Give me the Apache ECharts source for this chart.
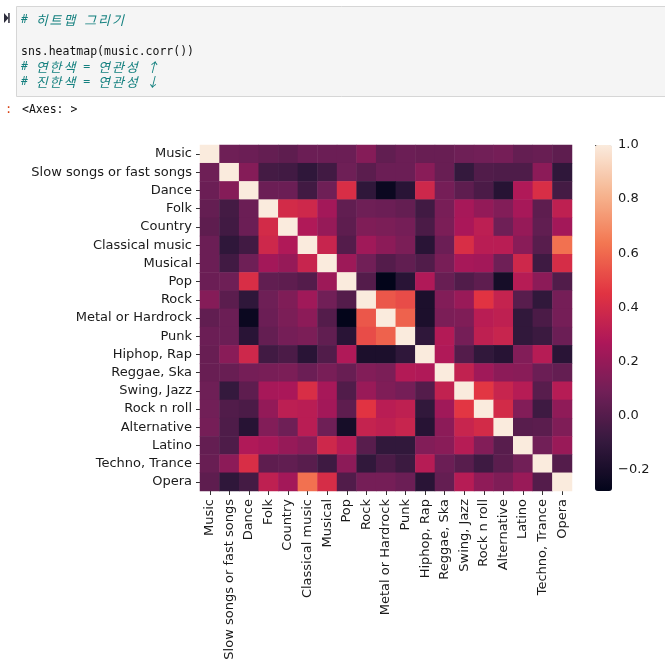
<!DOCTYPE html>
<html>
<head>
<meta charset="utf-8">
<script src="https://cdn.jsdelivr.net/npm/echarts@6/dist/echarts.min.js"></script>
<style>
  html, body { margin: 0; padding: 0; background: #ffffff; }
  #chart { width: 665px; height: 667px; }
</style>
</head>
<body>
<div id="chart"></div>
<script>
// ---- data ----
const categories = ['Music', 'Slow songs or fast songs', 'Dance', 'Folk', 'Country', 'Classical music', 'Musical', 'Pop', 'Rock', 'Metal or Hardrock', 'Punk', 'Hiphop, Rap', 'Reggae, Ska', 'Swing, Jazz', 'Rock n roll', 'Alternative', 'Latino', 'Techno, Trance', 'Opera'];

const rowMusic       = [1, 0.08, 0.07, 0.05, 0.03, 0.07, 0.07, 0.07, 0.15, 0.04, 0.07, 0.06, 0.06, 0.08, 0.09, 0.10, 0.05, 0.06, 0.03];
const rowSlowFast    = [0.08, 1, 0.15, -0.05, -0.06, -0.12, -0.06, 0.08, 0.02, 0.07, 0.07, 0.16, 0.06, -0.10, -0.01, -0.02, -0.02, 0.17, -0.12];
const rowDance       = [0.07, 0.15, 1, 0.07, 0.07, -0.06, 0.08, 0.42, -0.12, -0.25, -0.14, 0.38, 0.10, 0.03, -0.03, -0.15, 0.28, 0.42, -0.05];
const rowFolk        = [0.05, -0.05, 0.07, 1, 0.40, 0.38, 0.24, 0.04, 0.08, 0.07, 0.05, -0.06, 0.11, 0.25, 0.19, 0.14, 0.25, 0.03, 0.33];
const rowCountry     = [0.03, -0.06, 0.07, 0.40, 1, 0.28, 0.20, 0.03, 0.13, 0.12, 0.10, -0.03, 0.12, 0.26, 0.32, 0.08, 0.20, 0.04, 0.24];
const rowClassical   = [0.07, -0.12, -0.06, 0.38, 0.28, 1, 0.36, 0.00, 0.23, 0.17, 0.12, -0.14, 0.07, 0.42, 0.31, 0.31, 0.16, 0.01, 0.62];
const rowMusical     = [0.07, -0.06, 0.08, 0.24, 0.20, 0.36, 1, 0.22, 0.09, 0.00, 0.04, -0.01, 0.11, 0.25, 0.24, 0.08, 0.38, -0.07, 0.41];
const rowPop         = [0.07, 0.08, 0.42, 0.04, 0.03, 0.00, 0.22, 1, 0.00, -0.28, -0.14, 0.28, 0.06, -0.01, 0.03, -0.21, 0.30, 0.17, -0.01];
const rowRock        = [0.15, 0.02, -0.12, 0.08, 0.13, 0.23, 0.09, 0.00, 1, 0.55, 0.52, -0.19, 0.14, 0.21, 0.45, 0.35, 0.01, -0.11, 0.10];
const rowMetal       = [0.04, 0.07, -0.25, 0.07, 0.12, 0.17, 0.00, -0.28, 0.55, 1, 0.58, -0.19, 0.12, 0.13, 0.31, 0.33, -0.11, -0.03, 0.10];
const rowPunk        = [0.07, 0.07, -0.14, 0.05, 0.10, 0.12, 0.04, -0.14, 0.52, 0.58, 1, -0.12, 0.29, 0.10, 0.33, 0.36, -0.11, -0.08, 0.07];
const rowHiphop      = [0.06, 0.16, 0.38, -0.06, -0.03, -0.14, -0.01, 0.28, -0.19, -0.19, -0.12, 1, 0.28, 0.00, -0.11, -0.15, 0.14, 0.30, -0.14];
const rowReggae      = [0.06, 0.06, 0.10, 0.11, 0.12, 0.07, 0.11, 0.06, 0.14, 0.12, 0.29, 0.28, 1, 0.34, 0.23, 0.17, 0.16, 0.07, 0.05];
const rowSwing       = [0.08, -0.10, 0.03, 0.25, 0.26, 0.42, 0.25, -0.01, 0.21, 0.13, 0.10, 0.00, 0.34, 1, 0.46, 0.36, 0.30, 0.01, 0.30];
const rowRockNRoll   = [0.09, -0.01, -0.03, 0.19, 0.32, 0.31, 0.24, 0.03, 0.45, 0.31, 0.33, -0.11, 0.23, 0.46, 1, 0.40, 0.14, -0.07, 0.18];
const rowAlternative = [0.10, -0.02, -0.15, 0.14, 0.08, 0.31, 0.08, -0.21, 0.35, 0.33, 0.36, -0.15, 0.17, 0.36, 0.40, 1, 0.01, 0.02, 0.13];
const rowLatino      = [0.05, -0.02, 0.28, 0.25, 0.20, 0.16, 0.38, 0.30, 0.01, -0.11, -0.11, 0.14, 0.16, 0.30, 0.14, 0.01, 1, 0.09, 0.21];
const rowTechno      = [0.06, 0.17, 0.42, 0.03, 0.04, 0.01, -0.07, 0.17, -0.11, -0.03, -0.08, 0.30, 0.07, 0.01, -0.07, 0.02, 0.09, 1, 0.00];
const rowOpera       = [0.03, -0.12, -0.05, 0.33, 0.24, 0.62, 0.41, -0.01, 0.10, 0.10, 0.07, -0.14, 0.05, 0.30, 0.18, 0.13, 0.21, 0.00, 1];

const corrRows = [rowMusic, rowSlowFast, rowDance, rowFolk, rowCountry, rowClassical, rowMusical, rowPop, rowRock, rowMetal, rowPunk, rowHiphop, rowReggae, rowSwing, rowRockNRoll, rowAlternative, rowLatino, rowTechno, rowOpera];

const colorbarMin = -0.28;
const colorbarMax = 1.0;
const colorbarTicks = [-0.2, 0.0, 0.2, 0.4, 0.6, 0.8, 1.0];

const codeLines = ['# 히트맵 그리기', '', 'sns.heatmap(music.corr())', '# 연한색 = 연관성 ↑', '# 진한색 = 연관성 ↓'];
const outputText = '<Axes: >';

// ---- build ----
const heatData = [];
corrRows.forEach(function (row, i) {
  row.forEach(function (v, j) { heatData.push([j, i, v]); });
});

const rocket = ['#03051A', '#35193E', '#701F57', '#AD1759', '#E13342', '#F37651', '#F6B48F', '#FAEBDD'];
const labelFont = 'DejaVu Sans';
const monoFont = '"DejaVu Sans Mono", monospace';
const cjkFont = '"Noto Sans CJK KR", sans-serif';

// monospace code cell: each character in its own cell (wide chars take two cells)
const cellW = 6.92;
const codeX = 21;
const lineY = [20, 36, 52, 67.5, 82.5];
const codeGraphics = [];
codeLines.forEach(function (t, k) {
  if (!t) return;
  const isComment = t.charAt(0) === '#';
  const fill = isComment ? '#14807f' : '#111111';
  const ital = isComment ? 'italic ' : '';
  let cell = 0;
  for (const ch of t) {
    const wide = ch.charCodeAt(0) > 0x2000;
    if (ch !== ' ') {
      codeGraphics.push({
        type: 'text', silent: true,
        x: wide ? codeX + (cell + 1) * cellW : codeX + cell * cellW,
        y: lineY[k],
        style: {
          text: ch, fill: fill,
          font: wide ? (ital + '13px ' + cjkFont) : (ital + '11.5px ' + monoFont),
          textVerticalAlign: 'middle', textAlign: wide ? 'center' : 'left'
        }
      });
    }
    cell += wide ? 2 : 1;
  }
});

const chart = echarts.init(document.getElementById('chart'), null, { renderer: 'canvas' });
chart.setOption({
  animation: false,
  backgroundColor: '#ffffff',
  graphic: [
    { type: 'rect', silent: true, shape: { x: 16.5, y: 6.5, width: 700, height: 90 },
      style: { fill: '#f5f5f5', stroke: '#d6d6d6', lineWidth: 1 } },
    { type: 'polygon', silent: true, shape: { points: [[4, 13], [8.5, 18], [4, 23]] }, style: { fill: '#2b2b3a' } },
    { type: 'rect', silent: true, shape: { x: 8.2, y: 13, width: 1.5, height: 10 }, style: { fill: '#2b2b3a' } },
    { type: 'text', silent: true, x: 5, y: 110,
      style: { text: ':', fill: '#d84315', font: '12px ' + monoFont, textVerticalAlign: 'middle' } },
    { type: 'text', silent: true, x: 22, y: 110,
      style: { text: outputText, fill: '#111111', font: '11.5px ' + monoFont, textVerticalAlign: 'middle' } }
  ].concat(codeGraphics),
  grid: [
    { left: 200, top: 145, width: 372, height: 346, containLabel: false, outerBoundsMode: 'none' },
    { left: 595, top: 145, width: 17, height: 346, containLabel: false, outerBoundsMode: 'none' }
  ],
  xAxis: [
    {
      type: 'category', gridIndex: 0, data: categories, position: 'bottom',
      axisLine: { show: false },
      axisTick: { show: true, alignWithLabel: true, length: 4, lineStyle: { color: '#333', width: 1 } },
      axisLabel: { rotate: 90, margin: 8, interval: 0, fontFamily: labelFont, fontSize: 13, color: '#1a1a1a' },
      splitLine: { show: false }, splitArea: { show: false }
    },
    { type: 'value', gridIndex: 1, min: 0, max: 1, show: false }
  ],
  yAxis: [
    {
      type: 'category', gridIndex: 0, data: categories, inverse: true,
      axisLine: { show: false },
      axisTick: { show: true, alignWithLabel: true, length: 4, lineStyle: { color: '#333', width: 1 } },
      axisLabel: { margin: 8, interval: 0, fontFamily: labelFont, fontSize: 13, color: '#1a1a1a' },
      splitLine: { show: false }, splitArea: { show: false }
    },
    {
      type: 'value', gridIndex: 1, min: colorbarMin, max: colorbarMax, position: 'right',
      axisLine: { show: false },
      splitLine: { show: false },
      axisTick: { show: true, customValues: colorbarTicks, length: 4, lineStyle: { color: '#333', width: 1 } },
      axisLabel: {
        customValues: colorbarTicks, margin: 6, fontFamily: labelFont, fontSize: 13, color: '#1a1a1a',
        formatter: function (v) { return (v < 0 ? '\u2212' : '') + Math.abs(v).toFixed(1); }
      }
    }
  ],
  visualMap: {
    type: 'continuous', min: colorbarMin, max: colorbarMax, dimension: 2, seriesIndex: 0,
    orient: 'vertical', left: 595, top: 145, itemWidth: 17, itemHeight: 346, padding: 0,
    calculable: false, hoverLink: false, text: null, showLabel: false,
    inRange: { color: rocket }
  },
  series: [
    {
      type: 'heatmap', xAxisIndex: 0, yAxisIndex: 0, data: heatData,
      itemStyle: { borderWidth: 0 },
      emphasis: { disabled: true }, label: { show: false }, progressive: 0
    },
    { type: 'scatter', xAxisIndex: 1, yAxisIndex: 1, data: [], silent: true }
  ]
});
</script>
</body>
</html>
